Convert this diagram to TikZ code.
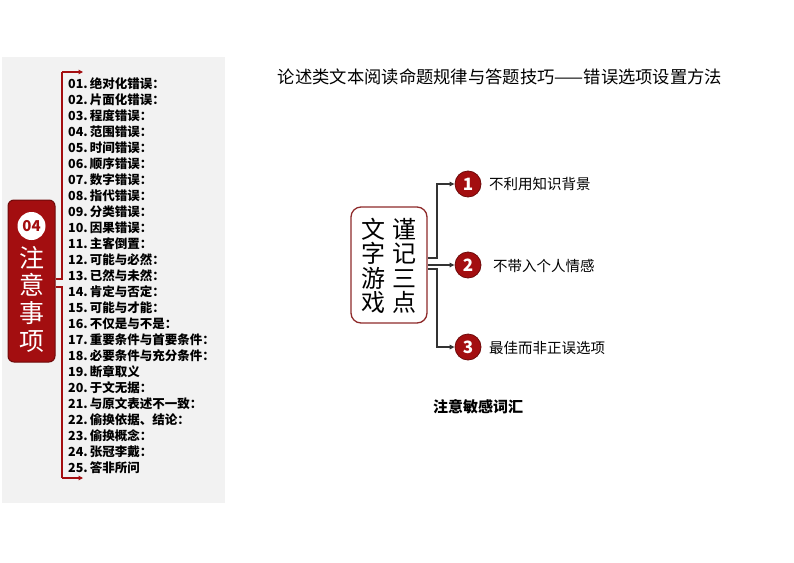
\documentclass[tikz,border=0pt]{standalone}
\usepackage{fontspec}
\setmainfont{Noto Sans CJK SC}
\usetikzlibrary{arrows.meta}
\definecolor{dred}{HTML}{A30E10}
\definecolor{dredb}{HTML}{6E0A0A}
\definecolor{boxred}{HTML}{8E2A2A}
\definecolor{panel}{HTML}{F2F2F2}
\definecolor{conn}{HTML}{333333}
\tikzset{
  brk/.style={draw=dred, line width=1.1pt},
  brkarrow/.style={brk, -{Triangle[length=4.5pt,width=4.5pt]}},
  connline/.style={draw=conn, line width=1.2pt},
  connarrow/.style={connline, -{Triangle[length=5pt,width=4.5pt]}},
  item/.style={anchor=west, inner sep=0pt, font=\bfseries\fontsize{12.5}{13}\selectfont},
  numc/.style={circle, fill=dred, draw=dredb, line width=0.8pt, minimum size=26pt, inner sep=0pt, text=white, font=\bfseries\fontsize{17}{17}\selectfont},
  lbl/.style={anchor=west, inner sep=0pt, font=\fontsize{14.5}{15}\selectfont},
}
\begin{document}
\begin{tikzpicture}[x=1pt,y=-1pt]
\useasboundingbox (0,0) rectangle (794,562);
\fill[panel] (2,57) rectangle (225,503);
% red tag
\node[draw=dredb, fill=dred, rounded corners=6pt, minimum width=47pt, minimum height=162pt, line width=1pt, inner sep=0pt] (tag) at (31.5,281) {};
\node[circle, fill=white, minimum size=28pt, inner sep=0pt, text=dred, font=\bfseries\fontsize{15}{15}\selectfont] (num) at (31.5,226) {04};
\node[text=white, inner sep=0pt, align=center, font=\fontsize{25}{27.7}\selectfont] (zy) at (31.5,299) {注\\意\\事\\项};
% bracket coordinates
\coordinate (b1) at (62,279);
\coordinate (b2) at (62,287);
\coordinate (btop) at (62,72);
\coordinate (bbot) at (62,478);
\coordinate (atop) at (83,72);
\coordinate (abot) at (83,478);
\draw[brk] (tag.east |- b1) -- (b1) -- (btop);
\draw[brkarrow] (btop) -- (atop);
\draw[brk] (tag.east |- b2) -- (b2) -- (bbot);
\draw[brkarrow] (bbot) -- (abot);
% list
\foreach \t [count=\i] in {绝对化错误：,片面化错误：,程度错误：,范围错误：,时间错误：,顺序错误：,数字错误：,指代错误：,分类错误：,因果错误：,主客倒置：,可能与必然：,已然与未然：,肯定与否定：,可能与才能：,不仅是与不是：,重要条件与首要条件：,必要条件与充分条件：,断章取义,于文无据：,与原文表述不一致：,偷换依据、结论：,偷换概念：,张冠李戴：,答非所问}{
  \pgfmathsetmacro{\yy}{84+16*(\i-1)}
  \ifnum\i<10 \def\nn{0\i}\else\def\nn{\i}\fi
  \node[item] (it\i) at (68,\yy) {\nn.\,\t};
}
% title
\node[inner sep=0pt, font=\fontsize{17.3}{17.3}\selectfont] (title) at (500,77) {论述类文本阅读命题规律与答题技巧——错误选项设置方法};
% center box
\node[draw=boxred, rounded corners=10pt, line width=1.3pt, minimum width=76pt, minimum height=116pt, inner sep=0pt] (box) at (389,265) {};
\node[inner sep=0pt, align=center, font=\fontsize{24}{24.5}\selectfont] (c1) at (373,266) {文\\字\\游\\戏};
\node[inner sep=0pt, align=center, font=\fontsize{24}{24.5}\selectfont] (c2) at (404,266) {谨\\记\\三\\点};
% numbered circles
\node[numc] (n1) at (468,184) {1};
\node[numc] (n2) at (468,265) {2};
\node[numc] (n3) at (468,347) {3};
\node[lbl] (l1) at (489,184) {不利用知识背景};
\node[lbl] (l2) at (493,266) {不带入个人情感};
\node[lbl] (l3) at (489,348) {最佳而非正误选项};
% connectors
\coordinate (s1) at (427,258);
\coordinate (s3) at (427,269);
\coordinate (k1) at (437,258);
\coordinate (k3) at (437,269);
\draw[connarrow] (box.east |- s1) -- (k1) |- (n1.west);
\draw[connarrow] (box.east |- n2) -- (n2.west);
\draw[connarrow] (box.east |- s3) -- (k3) |- (n3.west);
% note
\node[inner sep=0pt, font=\bfseries\fontsize{15}{15}\selectfont] (note) at (478,407) {注意敏感词汇};
\end{tikzpicture}
\end{document}
